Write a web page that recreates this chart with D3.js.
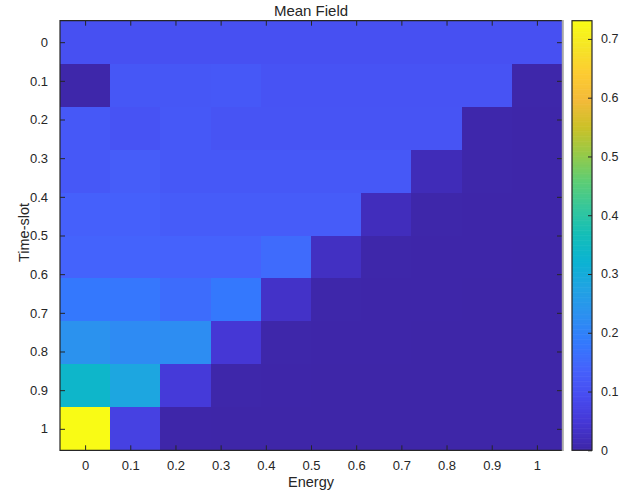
<!DOCTYPE html>
<html>
<head>
<meta charset="utf-8">
<script src="https://cdn.jsdelivr.net/npm/d3@7"></script>
<style>
  body { margin: 0; background: #fff; }
  svg { display: block; }
  text { font-family: "Liberation Sans", Arial, Helvetica, sans-serif; fill: #262626; }
</style>
</head>
<body>
<svg id="chart" width="633" height="495"></svg>
<script>
// Energy levels (columns) and time slots (rows), cell centres
const energy = [0, 0.1111, 0.2222, 0.3333, 0.4444, 0.5556, 0.6667, 0.7778, 0.8889, 1];
const timeSlots = [0, 0.1111, 0.2222, 0.3333, 0.4444, 0.5556, 0.6667, 0.7778, 0.8889, 1];

// Mean-field value per time slot (row) and energy level (column)
const meanField = [
  [0.100, 0.100, 0.100, 0.100, 0.100, 0.100, 0.100, 0.100, 0.100, 0.100],
  [0.002, 0.115, 0.115, 0.117, 0.107, 0.107, 0.107, 0.107, 0.107, 0.002],
  [0.117, 0.106, 0.117, 0.108, 0.108, 0.108, 0.108, 0.108, 0.003, 0.001],
  [0.117, 0.128, 0.117, 0.117, 0.117, 0.117, 0.117, 0.016, 0.002, 0.001],
  [0.134, 0.134, 0.126, 0.126, 0.126, 0.126, 0.020, 0.002, 0.001, 0.001],
  [0.140, 0.140, 0.137, 0.137, 0.154, 0.027, 0.002, 0.001, 0.001, 0.000],
  [0.180, 0.177, 0.157, 0.180, 0.033, 0.002, 0.001, 0.001, 0.000, 0.000],
  [0.235, 0.218, 0.223, 0.046, 0.002, 0.001, 0.001, 0.000, 0.000, 0.000],
  [0.335, 0.284, 0.053, 0.002, 0.001, 0.000, 0.000, 0.000, 0.000, 0.000],
  [0.731, 0.068, 0.001, 0.000, 0.000, 0.000, 0.000, 0.000, 0.000, 0.000]
];

const axisTicks = [0, 0.1, 0.2, 0.3, 0.4, 0.5, 0.6, 0.7, 0.8, 0.9, 1];
const colorTicks = [0, 0.1, 0.2, 0.3, 0.4, 0.5, 0.6, 0.7];

// Parula colour map anchors: [position 0..1, colour]
const parula = [
  [0 / 255, "#3e26a8"], [16 / 255, "#4537d5"], [32 / 255, "#484cf0"], [48 / 255, "#4562fc"],
  [64 / 255, "#337afd"], [80 / 255, "#2c90f0"], [96 / 255, "#21a3e3"], [112 / 255, "#0bb3d2"],
  [128 / 255, "#14beb8"], [144 / 255, "#35c79b"], [160 / 255, "#5ecd74"], [176 / 255, "#96ca48"],
  [192 / 255, "#cbc128"], [208 / 255, "#f3ba39"], [224 / 255, "#fdcb32"], [240 / 255, "#f5e526"],
  [255 / 255, "#f9fb15"]
];

const svg = d3.select("#chart");
const plot = { left: 60, right: 562, top: 20.7, bottom: 450.3 };
const bar = { left: 572, right: 592 };
const ink = "#262626";

const halfX = (energy[1] - energy[0]) / 2;
const halfY = (timeSlots[1] - timeSlots[0]) / 2;

const x = d3.scaleLinear()
  .domain([energy[0] - halfX, energy[energy.length - 1] + halfX])
  .range([plot.left, plot.right]);
const y = d3.scaleLinear()
  .domain([timeSlots[0] - halfY, timeSlots[timeSlots.length - 1] + halfY])
  .range([plot.top, plot.bottom]);

const all = meanField.flat();
const [vMin, vMax] = d3.extent(all);
const color = d3.scaleLinear()
  .domain(parula.map(d => vMin + d[0] * (vMax - vMin)))
  .range(parula.map(d => d[1]))
  .interpolate(d3.interpolateRgb)
  .clamp(true);

// Heat-map cells
const cells = [];
meanField.forEach((row, i) => row.forEach((v, j) => cells.push({ t: timeSlots[i], e: energy[j], v })));
svg.append("g")
  .selectAll("rect")
  .data(cells)
  .join("rect")
  .attr("x", d => x(d.e - halfX))
  .attr("y", d => y(d.t - halfY))
  .attr("width", d => x(d.e + halfX) - x(d.e - halfX) + 0.4)
  .attr("height", d => y(d.t + halfY) - y(d.t - halfY) + 0.4)
  .attr("fill", d => color(d.v))
  .attr("shape-rendering", "crispEdges");

const fmt = d3.format("~g");
const tickLen = 5;

// Axes drawn with inward ticks on all four sides
function styleAxis(g) {
  g.select(".domain").remove();
  g.selectAll(".tick line").attr("stroke", ink).attr("stroke-width", 1);
  g.selectAll(".tick text").attr("fill", ink).attr("font-size", 13)
    .attr("font-family", '"Liberation Sans", Arial, Helvetica, sans-serif');
}

svg.append("g")
  .attr("transform", `translate(0,${plot.bottom})`)
  .call(d3.axisBottom(x).tickValues(axisTicks).tickFormat(fmt).tickSizeInner(-tickLen).tickSizeOuter(0).tickPadding(10))
  .call(styleAxis);
svg.append("g")
  .attr("transform", `translate(0,${plot.top})`)
  .call(d3.axisTop(x).tickValues(axisTicks).tickFormat("").tickSizeInner(-tickLen).tickSizeOuter(0))
  .call(styleAxis);
svg.append("g")
  .attr("transform", `translate(${plot.left},0)`)
  .call(d3.axisLeft(y).tickValues(axisTicks).tickFormat(fmt).tickSizeInner(-tickLen).tickSizeOuter(0).tickPadding(12))
  .call(styleAxis);
svg.append("g")
  .attr("transform", `translate(${plot.right},0)`)
  .call(d3.axisRight(y).tickValues(axisTicks).tickFormat("").tickSizeInner(-tickLen).tickSizeOuter(0))
  .call(styleAxis);

// Plot frame
svg.append("path")
  .attr("d", `M${plot.right},${plot.top}H${plot.left}V${plot.bottom}H${plot.right}`)
  .attr("fill", "none").attr("stroke", ink).attr("stroke-width", 1.2);
svg.append("line")
  .attr("x1", plot.right + 0.8).attr("x2", plot.right + 0.8)
  .attr("y1", plot.top - 0.6).attr("y2", plot.bottom + 0.6)
  .attr("stroke", "#a8a8a8").attr("stroke-width", 2);

// Colour bar
const cb = d3.scaleLinear().domain([vMin, vMax]).range([plot.bottom, plot.top]);
const levels = d3.range(256).map(k => vMin + (k / 255) * (vMax - vMin));
const step = (vMax - vMin) / 256;
svg.append("g")
  .selectAll("rect")
  .data(levels)
  .join("rect")
  .attr("x", bar.left)
  .attr("width", bar.right - bar.left)
  .attr("y", (d, k) => cb(vMin + (k + 1) * step) - 0.3)
  .attr("height", (d, k) => cb(vMin + k * step) - cb(vMin + (k + 1) * step) + 0.6)
  .attr("fill", d => color(d));

svg.append("g")
  .attr("transform", `translate(${bar.right},0)`)
  .call(d3.axisRight(cb).tickValues(colorTicks).tickFormat(fmt).tickSizeInner(-4).tickSizeOuter(0).tickPadding(9))
  .call(styleAxis)
  .call(g => g.selectAll(".tick text").attr("font-size", 12.5));

svg.append("rect")
  .attr("x", bar.left).attr("y", plot.top)
  .attr("width", bar.right - bar.left).attr("height", plot.bottom - plot.top)
  .attr("fill", "none").attr("stroke", ink).attr("stroke-width", 1.2);

// Title and axis labels
svg.append("text")
  .attr("x", (plot.left + plot.right) / 2).attr("y", 15.5)
  .attr("text-anchor", "middle").attr("font-size", 15)
  .text("Mean Field");
svg.append("text")
  .attr("x", (plot.left + plot.right) / 2).attr("y", 487)
  .attr("text-anchor", "middle").attr("font-size", 14.5)
  .text("Energy");
svg.append("text")
  .attr("transform", `translate(28.5,${(plot.top + plot.bottom) / 2 - 3}) rotate(-90)`)
  .attr("text-anchor", "middle").attr("font-size", 14.5)
  .text("Time-slot");
</script>
</body>
</html>
